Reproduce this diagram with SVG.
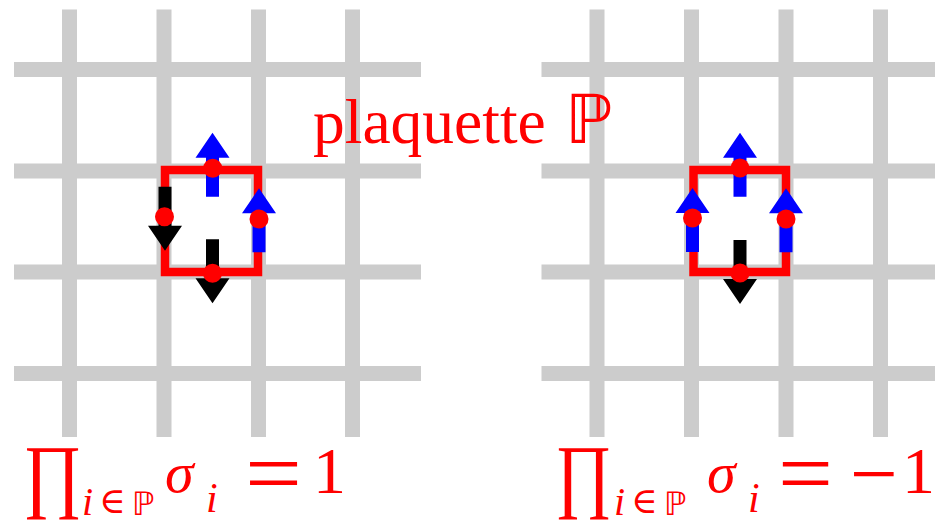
<svg xmlns="http://www.w3.org/2000/svg" xmlns:xlink="http://www.w3.org/1999/xlink" width="935" height="526" viewBox="0 0 935 526">
<style>
.grid line{stroke:#cccccc;stroke-width:15;stroke-linecap:butt}
.sq{fill:none;stroke:#ff0000;stroke-width:8.5}
.up{fill:#0000ff}
.dn{fill:#000000}
.dot{fill:#ff0000}
.t{fill:#ff0000;font-family:"Liberation Serif","DejaVu Serif",serif}
.it{font-style:italic}
.sym{font-family:"DejaVu Serif","DejaVu Sans",serif}
.bb{font-family:"DejaVu Sans","DejaVu Serif",sans-serif}
</style>
<defs>
<path id="arrow" d="M-6.5,32 H6.5 V-7 H17 L0,-32 L-17,-7 H-6.5 Z"/>
</defs>
<rect width="935" height="526" fill="#ffffff"/>
<g id="grid-left" class="grid">
<line x1="14" y1="69.5" x2="421" y2="69.5"/>
<line x1="14" y1="171" x2="421" y2="171"/>
<line x1="14" y1="272" x2="421" y2="272"/>
<line x1="14" y1="373.5" x2="421" y2="373.5"/>
<line x1="69.5" y1="9.5" x2="69.5" y2="437"/>
<line x1="164" y1="9.5" x2="164" y2="437"/>
<line x1="258.5" y1="9.5" x2="258.5" y2="437"/>
<line x1="352.5" y1="9.5" x2="352.5" y2="437"/>
</g>
<g id="grid-right" class="grid">
<line x1="541.5" y1="69.5" x2="948" y2="69.5"/>
<line x1="541.5" y1="171" x2="948" y2="171"/>
<line x1="541.5" y1="272" x2="948" y2="272"/>
<line x1="541.5" y1="373.5" x2="948" y2="373.5"/>
<line x1="597" y1="9.5" x2="597" y2="437"/>
<line x1="691.5" y1="9.5" x2="691.5" y2="437"/>
<line x1="786" y1="9.5" x2="786" y2="437"/>
<line x1="880.5" y1="9.5" x2="880.5" y2="437"/>
</g>
<g id="label">
<text class="t" x="313" y="143" font-size="63.5">plaquette</text>
<text class="t bb" x="565" y="143" font-size="68">ℙ</text>
</g>
<g id="plaquette-left">
<rect class="sq" x="165" y="170" width="93" height="102"/>
<use href="#arrow" class="up" transform="translate(212.5,164.7)"/>
<use href="#arrow" class="dn" transform="translate(165,218.7) rotate(180)"/>
<use href="#arrow" class="up" transform="translate(259,220.3)"/>
<use href="#arrow" class="dn" transform="translate(212.5,271.3) rotate(180)"/>
<circle class="dot" cx="212.7" cy="168.3" r="9.5"/>
<circle class="dot" cx="164.5" cy="216.7" r="9.5"/>
<circle class="dot" cx="259" cy="219" r="9.5"/>
<circle class="dot" cx="212.5" cy="273.3" r="9.5"/>
</g>
<g id="plaquette-right">
<rect class="sq" x="693.5" y="170" width="92.5" height="102"/>
<use href="#arrow" class="up" transform="translate(740,164.7)"/>
<use href="#arrow" class="up" transform="translate(692.5,220)"/>
<use href="#arrow" class="up" transform="translate(786,220.3)"/>
<use href="#arrow" class="dn" transform="translate(740,272) rotate(180)"/>
<circle class="dot" cx="740" cy="168" r="9.5"/>
<circle class="dot" cx="692.5" cy="218" r="9.5"/>
<circle class="dot" cx="786" cy="219" r="9.5"/>
<circle class="dot" cx="740" cy="273" r="9.5"/>
</g>
<g id="formula-left">
<text class="t" x="23" y="502" font-size="82" textLength="59" lengthAdjust="spacingAndGlyphs">∏</text>
<text class="t it" x="82" y="515" font-size="40">i</text>
<text class="t sym" x="99" y="513" font-size="36">∈</text>
<text class="t bb" x="132" y="515" font-size="32">ℙ</text>
<text class="t it" x="165" y="492" font-size="58">σ</text>
<text class="t it" x="206" y="512" font-size="42">i</text>
<text class="t" x="245" y="504" font-size="90" textLength="57" lengthAdjust="spacingAndGlyphs">=</text>
<text class="t" x="313" y="493" font-size="66">1</text>
</g>
<g id="formula-right">
<text class="t" x="555" y="502" font-size="82" textLength="57" lengthAdjust="spacingAndGlyphs">∏</text>
<text class="t it" x="614" y="515" font-size="40">i</text>
<text class="t sym" x="631" y="513" font-size="36">∈</text>
<text class="t bb" x="664" y="515" font-size="32">ℙ</text>
<text class="t it" x="707" y="492" font-size="58">σ</text>
<text class="t it" x="748" y="512" font-size="42">i</text>
<text class="t" x="778" y="504" font-size="90" textLength="55" lengthAdjust="spacingAndGlyphs">=</text>
<text class="t" x="850" y="504" font-size="90" textLength="48" lengthAdjust="spacingAndGlyphs">−</text>
<text class="t" x="902" y="493" font-size="66">1</text>
</g>
</svg>
